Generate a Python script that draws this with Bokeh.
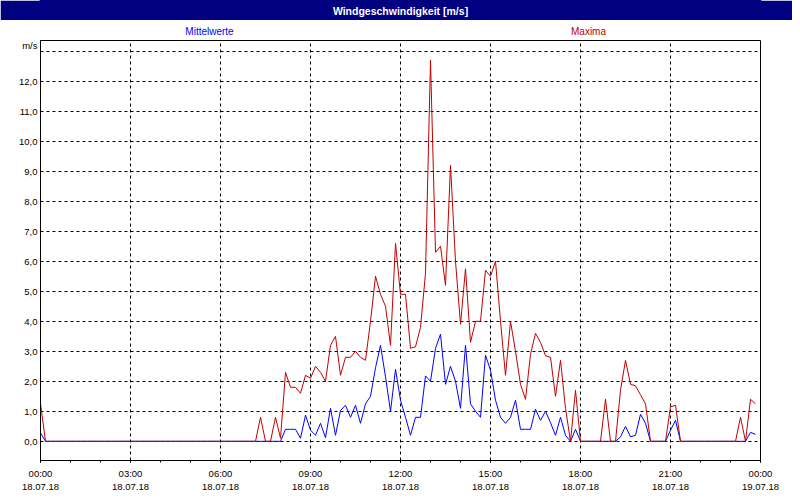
from bokeh.plotting import figure
from bokeh.layouts import column
from bokeh.models import Range1d, FixedTicker, LinearAxis, Grid
from bokeh.core.properties import value
from bokeh.embed import file_html
from bokeh.resources import INLINE

# ---- data (10-minute values, 18.07.18 00:00 .. 23:50) ----
maxima = [1.25] + [0.0] * 43 + [
    0.8, 0.0, 0.0, 0.8, 0.1, 2.3, 1.8, 1.8, 1.6, 2.2,
    2.1, 2.5, 2.3, 2.0, 3.2, 3.5, 2.2, 2.8, 2.8, 3.0,
    2.8, 2.7, 4.0, 5.5, 4.9, 4.5, 3.2, 6.6, 4.9, 4.9,
    3.1, 3.15, 3.8, 5.6, 12.7, 6.3, 6.5, 5.2, 9.2, 6.0,
    3.9, 5.75, 3.3, 4.0, 4.0, 5.7, 5.5, 6.0, 4.0, 2.2,
    4.0, 3.0, 1.9, 1.4, 2.9, 3.6, 3.3, 2.85, 2.8, 1.5,
    2.7, 1.1, 0.0, 1.7, 0.0, 0.0, 0.0, 0.0, 0.0, 1.4,
    0.0, 0.0, 1.7, 2.7, 1.9, 1.85, 1.55, 1.25, 0.0, 0.0,
    0.0, 0.0, 1.15, 1.2, 0.0, 0.0, 0.0, 0.0, 0.0, 0.0,
    0.0, 0.0, 0.0, 0.0, 0.0, 0.0, 0.8, 0.0, 1.4, 1.25,
]
mittelwerte = [0.28] + [0.0] * 48 + [
    0.4, 0.4, 0.4, 0.1, 0.87, 0.37, 0.2, 0.6, 0.12, 1.1,
    0.2, 1.03, 1.2, 0.8, 1.2, 0.6, 1.25, 1.5, 2.45, 3.2,
    2.15, 1.0, 2.4, 1.37, 0.8, 0.2, 0.8, 0.8, 2.18, 2.0,
    3.1, 3.57, 1.9, 2.5, 2.0, 1.1, 3.2, 1.25, 1.0, 0.8,
    2.87, 2.37, 1.37, 0.8, 0.6, 0.8, 1.37, 0.4, 0.4, 0.4,
    1.07, 0.7, 1.0, 0.62, 0.2, 0.8, 0.2, 0.0, 0.4, 0.0,
    0.0, 0.0, 0.0, 0.0, 0.0, 0.0, 0.0, 0.15, 0.5, 0.15,
    0.2, 0.9, 0.6, 0.0, 0.0, 0.0, 0.0, 0.37, 0.7, 0.0,
    0.0, 0.0, 0.0, 0.0, 0.0, 0.0, 0.0, 0.0, 0.0, 0.0,
    0.0, 0.0, 0.0, 0.3, 0.23,
]
step_minutes = 10
hours = [i * step_minutes / 60 for i in range(len(maxima))]

x_ticks = [0, 3, 6, 9, 12, 15, 18, 21, 24]
x_time_labels = ["00:00", "03:00", "06:00", "09:00", "12:00", "15:00", "18:00", "21:00", "00:00"]
x_date_labels = ["18.07.18"] * 8 + ["19.07.18"]
y_ticks = list(range(0, 14))
y_labels = ["0,0", "1,0", "2,0", "3,0", "4,0", "5,0", "6,0", "7,0", "8,0", "9,0",
            "10,0", "11,0", "12,0", "m/s\n\u00a0"]

title_text = "Windgeschwindigkeit [m/s]"
series_names = ["Mittelwerte", "Maxima"]
colors = ["#0000FF", "#C00000"]
navy = "#000080"
FONT = "Liberation Sans"

BL, BR = 40, 32          # side borders shared by all stacked figures
FW, FH = 720, 420        # plot frame
BAR_H, CAP_H = 20, 19    # title bar / caption strip heights


def strip(height, y0, fill, seam_cover):
    f = figure(frame_width=FW, frame_height=height,
               x_range=Range1d(BL, BL + FW), y_range=Range1d(y0 + height, y0),
               x_axis_type=None, y_axis_type=None,
               output_backend="svg", toolbar_location=None,
               min_border_left=BL, min_border_right=BR,
               min_border_top=0, min_border_bottom=0)
    f.background_fill_color = fill
    f.border_fill_color = fill
    if seam_cover:
        f.outline_line_color = fill
        f.outline_line_width = 2
    else:
        f.outline_line_color = None
    f.grid.visible = False
    return f


# title bar (coordinates = page pixels)
bar = strip(BAR_H, 0, navy, True)
bar.text(x=[400], y=[10.5], text=[title_text], text_align="center",
         text_baseline="middle", text_color="white", text_font=value(FONT),
         text_font_style="bold", text_font_size="10.5px")

# series captions
cap = strip(CAP_H, BAR_H, "white", False)
cap.text(x=[209, 588], y=[31, 31], text=series_names, text_align="center",
         text_baseline="middle", text_color=colors, text_font=value(FONT),
         text_font_size="10px")

# ---------------- main chart ----------------
p = figure(frame_width=FW, frame_height=FH,
           x_range=Range1d(0, 24), y_range=Range1d(-0.64, 13.36),
           x_axis_type=None, y_axis_type=None,
           output_backend="svg", toolbar_location=None,
           min_border_left=BL, min_border_right=BR,
           min_border_top=1, min_border_bottom=32)
p.background_fill_color = "white"
p.border_fill_color = "white"
p.outline_line_color = "black"
p.outline_line_width = 1

xt = FixedTicker(ticks=x_ticks, minor_ticks=list(range(0, 25)))
xa = LinearAxis(ticker=xt)
xa.major_label_overrides = {t: s for t, s in zip(x_ticks, x_time_labels)}
xa.major_tick_in = 0
xa.major_tick_out = 2
xa.minor_tick_in = 0
xa.minor_tick_out = 2
xa.major_label_standoff = 5
xa.axis_line_color = "black"
xa.major_label_text_font = FONT
xa.major_label_text_font_size = "9.5px"
xa.major_label_text_color = "black"
p.add_layout(xa, "below")

xd = LinearAxis(ticker=FixedTicker(ticks=x_ticks, minor_ticks=[]))
xd.major_label_overrides = {t: s for t, s in zip(x_ticks, x_date_labels)}
xd.major_tick_in = 0
xd.major_tick_out = 0
xd.minor_tick_in = 0
xd.minor_tick_out = 0
xd.axis_line_color = None
xd.major_label_standoff = 2
xd.major_label_text_font = FONT
xd.major_label_text_font_size = "9.5px"
xd.major_label_text_color = "black"
p.add_layout(xd, "below")

yt = FixedTicker(ticks=y_ticks, minor_ticks=[])
ya = LinearAxis(ticker=yt)
ya.major_label_overrides = {t: s for t, s in zip(y_ticks, y_labels)}
ya.major_tick_in = 0
ya.major_tick_out = 0
ya.minor_tick_in = 0
ya.minor_tick_out = 0
ya.major_label_standoff = 3
ya.axis_line_color = "black"
ya.major_label_text_font = FONT
ya.major_label_text_font_size = "9.5px"
ya.major_label_text_color = "black"
p.add_layout(ya, "left")

for dim, tk in ((0, xt), (1, yt)):
    p.add_layout(Grid(dimension=dim, ticker=tk, grid_line_color="black",
                      grid_line_dash="3 3", grid_line_width=1))

p.line(hours, mittelwerte, line_color=colors[0], line_width=1)
p.line(hours, maxima, line_color=colors[1], line_width=1)

layout = column(bar, cap, p, spacing=0)
open("out.html", "w").write(file_html(layout, INLINE))
